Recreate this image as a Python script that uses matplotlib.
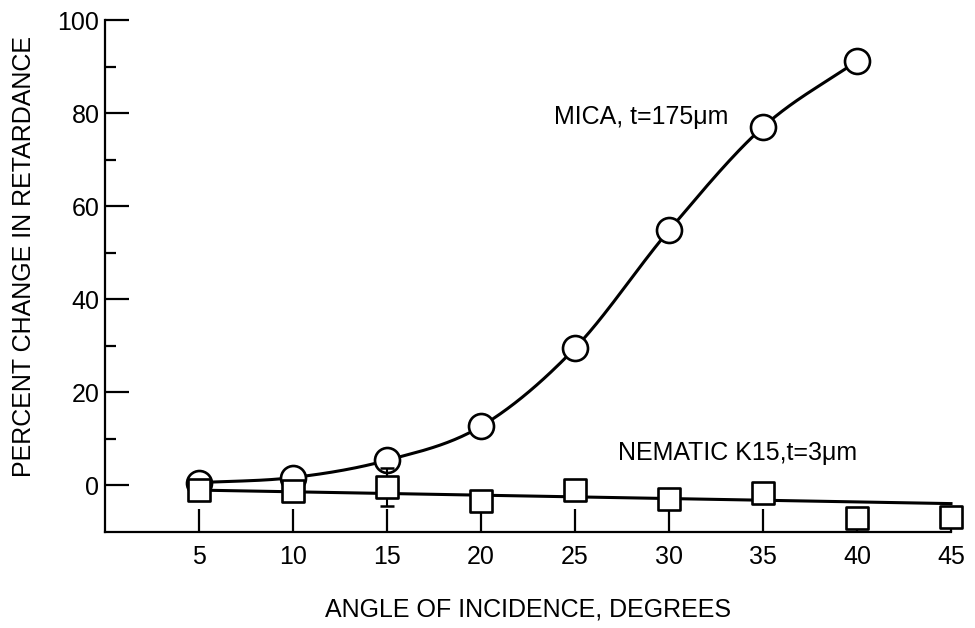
import matplotlib
matplotlib.use("Agg")
import matplotlib.pyplot as plt
import numpy as np
from matplotlib.markers import MarkerStyle

plt.rcParams["font.family"] = ["Liberation Sans", "DejaVu Sans"]

# angle of incidence, degrees
mica_angle = [5, 10, 15, 20, 25, 30, 35, 40]
mica_change = [0.6, 1.7, 5.4, 12.7, 29.5, 54.8, 77.0, 91.2]

nematic_angle = [5, 10, 15, 20, 25, 30, 35, 40, 45]
nematic_change = [-0.9, -1.1, -0.4, -3.4, -0.9, -3.0, -1.7, -7.0, -6.7]
nematic_err = [0, 0, 4.1, 0, 0, 0, 0, 0, 0]

# straight trend line drawn through the nematic points
nematic_trend_angle = [5, 45]
nematic_trend_change = [-1.0, -3.9]

x_ticks = [5, 10, 15, 20, 25, 30, 35, 40, 45]
y_ticks = [0, 20, 40, 60, 80, 100]
y_minor = [10, 30, 50, 70, 90]


def catmull_rom(x, y, n=40):
    """Smooth curve through the given points (uniform Catmull-Rom)."""
    x = np.asarray(x, float)
    y = np.asarray(y, float)
    px = np.concatenate([[2 * x[0] - x[1]], x, [2 * x[-1] - x[-2]]])
    py = np.concatenate([[2 * y[0] - y[1]], y, [2 * y[-1] - y[-2]]])
    t = np.linspace(0, 1, n)
    xs, ys = [], []
    for i in range(1, len(px) - 2):
        for p, out in ((px, xs), (py, ys)):
            p0, p1, p2, p3 = p[i - 1], p[i], p[i + 1], p[i + 2]
            out.append(0.5 * (2 * p1 + (-p0 + p2) * t
                              + (2 * p0 - 5 * p1 + 4 * p2 - p3) * t ** 2
                              + (-p0 + 3 * p1 - 3 * p2 + p3) * t ** 3))
    return np.concatenate(xs), np.concatenate(ys)


fig = plt.figure(figsize=(9.75, 6.28), dpi=100)
ax = fig.add_axes([105 / 975, 96 / 628, 846 / 975, 512 / 628])

lw = 2.2
circle = MarkerStyle("o")
square = MarkerStyle("s", joinstyle="round")

cx, cy = catmull_rom(mica_angle, mica_change)
ax.plot(cx, cy, color="black", lw=lw, zorder=2)
ax.plot(mica_angle, mica_change, ls="none", marker=circle, ms=18,
        mfc="white", mec="black", mew=1.9, zorder=3, clip_on=False)

ax.plot(nematic_trend_angle, nematic_trend_change, color="black", lw=lw,
        zorder=4, clip_on=False)
ax.errorbar(nematic_angle, nematic_change, yerr=nematic_err, fmt="none",
            ecolor="black", elinewidth=1.5, capsize=5, capthick=1.8, zorder=4)
ax.plot(nematic_angle, nematic_change, ls="none", marker=square, ms=16,
        mfc="white", mec="black", mew=1.9, zorder=5, clip_on=False)

ax.text(23.9, 79.2, "MICA, t=175μm", fontsize=18, va="center", ha="left")
ax.text(27.3, 6.9, "NEMATIC K15,t=3μm", fontsize=18, va="center", ha="left")

ax.set_xlim(0, 45)
ax.set_ylim(-10, 100)
ax.spines["top"].set_visible(False)
ax.spines["right"].set_visible(False)
for s in ("left", "bottom"):
    ax.spines[s].set_linewidth(1.6)

ax.set_xticks(x_ticks)
ax.set_yticks(y_ticks)
ax.set_yticks(y_minor, minor=True)
ax.tick_params(axis="x", direction="in", length=16.5, width=1.6, pad=9,
               labelsize=18)
ax.tick_params(axis="y", which="major", direction="in", length=17, width=1.6,
               pad=4, labelsize=18)
ax.tick_params(axis="y", which="minor", direction="in", length=8, width=1.6)

ax.set_xlabel("ANGLE OF INCIDENCE, DEGREES", fontsize=18, va="center")
ax.xaxis.set_label_coords(0.5, -0.152)
ax.set_ylabel("PERCENT CHANGE IN RETARDANCE", fontsize=18)
ax.yaxis.set_label_coords(-0.082, 0.539)

fig.savefig("out.png", dpi=100)
